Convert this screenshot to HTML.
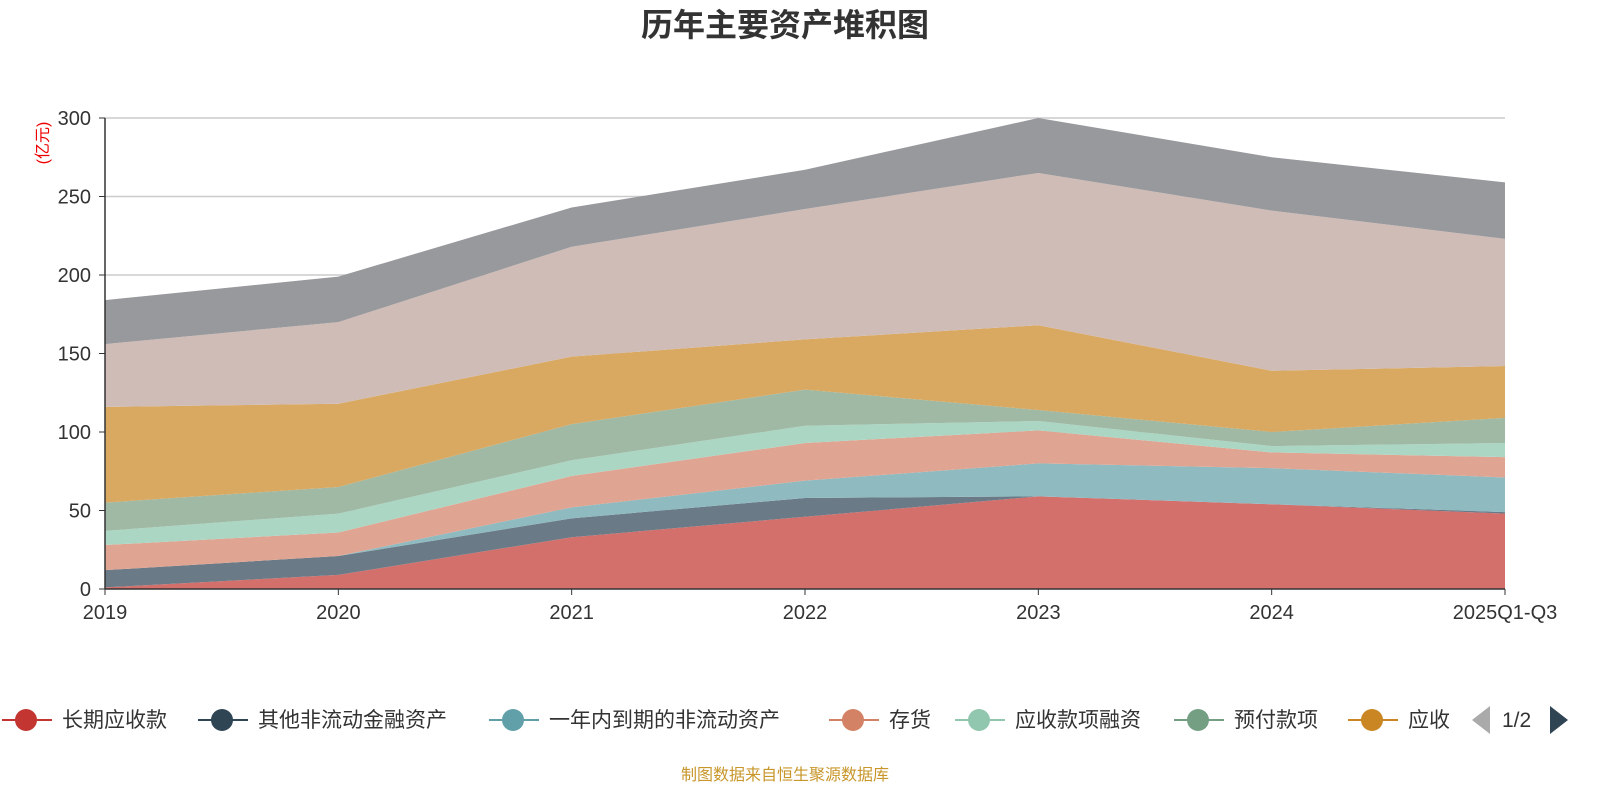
<!DOCTYPE html>
<html><head><meta charset="utf-8"><style>
body{margin:0;background:#fff;}
svg{display:block;font-family:"Liberation Sans","Noto Sans CJK SC",sans-serif;}
</style></head><body>
<svg id="c" width="1600" height="800">
<text x="785" y="36" text-anchor="middle" font-size="32" font-weight="bold" fill="#333">历年主要资产堆积图</text>
<text transform="translate(48,143) rotate(-90)" text-anchor="middle" font-size="16" fill="#e00">(亿元)</text>
<g id="grid"></g><g id="areas"></g><g id="axes"></g><g id="legend"></g>
<text x="785" y="780" text-anchor="middle" font-size="16" fill="#c8962a">制图数据来自恒生聚源数据库</text>
</svg>
<script>
const categories=["2019","2020","2021","2022","2023","2024","2025Q1-Q3"];
const seriesNames=["长期应收款","其他非流动金融资产","一年内到期的非流动资产","存货","应收款项融资","预付款项","应收","货币资金","其他"];
const s1=[1,9,33,46,59,54,48];
const s2=[11,12,12,12,0,0,1];
const s3=[0,0,7,11,21,23,22];
const s4=[16,15,20,24,21,10,13];
const s5=[9,12,10,11,6,4,9];
const s6=[18,17,23,23,7,9,16];
const s7=[61,53,43,32,54,39,33];
const s8=[40,52,70,83,97,102,81];
const s9=[28,29,25,25,35,34,36];
const yTicks=[0,50,100,150,200,250,300];
const series=[s1,s2,s3,s4,s5,s6,s7,s8,s9];
const colors=["#d4706c","#6a7a87","#8fbac0","#e0a592","#acd6c4","#9fb9a4","#d9a962","#d0bcb6","#98999d"];
const legendColors=["#c23531","#2f4554","#61a0a8","#d48265","#91c7ae","#749f83","#ca8622"];
const NS="http://www.w3.org/2000/svg";
const X0=105,X1=1505,Y0=589,Y1=118,YMAX=300;
const xs=i=>X0+(X1-X0)*i/(categories.length-1);
const ys=v=>Y0-(Y0-Y1)*v/YMAX;
function mk(t,a,p){const e=document.createElementNS(NS,t);for(const k in a)e.setAttribute(k,a[k]);p.appendChild(e);return e;}
const grid=document.getElementById('grid'),axes=document.getElementById('axes'),areas=document.getElementById('areas'),leg=document.getElementById('legend');
yTicks.forEach(v=>{
 if(v>0){const l=mk('line',{x1:X0,x2:X1,y1:ys(v),y2:ys(v),stroke:'#ccc','stroke-width':1.5},grid);
 
 }
 const t=mk('text',{x:X0-14,y:ys(v)+7,'text-anchor':'end','font-size':20,fill:'#333'},axes);t.textContent=v;
 
 
 mk('line',{x1:X0-6,x2:X0,y1:ys(v),y2:ys(v),stroke:'#333'},axes);
});
let base=categories.map(()=>0);
series.forEach((s,k)=>{
 const top=base.map((b,i)=>b+s[i]);
 let pts=top.map((v,i)=>xs(i)+','+ys(v));
 for(let i=categories.length-1;i>=0;i--)pts.push(xs(i)+','+ys(base[i]));
 const p=mk('polygon',{points:pts.join(' '),fill:colors[k]},areas);
 
 
 base=top;
});
mk('line',{x1:X0,x2:X0,y1:Y1,y2:Y0,stroke:'#333','stroke-width':1.5},axes);
mk('line',{x1:X0,x2:X1,y1:Y0,y2:Y0,stroke:'#333','stroke-width':1.5},axes);
categories.forEach((c,i)=>{
 mk('line',{x1:xs(i),x2:xs(i),y1:Y0,y2:Y0+6,stroke:'#333'},axes);
 const t=mk('text',{x:xs(i),y:Y0+30,'text-anchor':'middle','font-size':20,fill:'#333'},axes);t.textContent=c;
 
 
});
const lx=[2,198,489,829,955,1174,1348];
legendColors.forEach((c,k)=>{
 const g=mk('g',{},leg);
 
 
 mk('line',{x1:lx[k],x2:lx[k]+50,y1:720,y2:720,stroke:c,'stroke-width':2},g);
 mk('circle',{cx:lx[k]+24,cy:720,r:11,fill:c},g);
 const t=mk('text',{x:lx[k]+60,y:727,'font-size':21,fill:'#333'},g);t.textContent=seriesNames[k];
});
const pl=mk('polygon',{points:'1490,706 1490,734 1472,720',fill:'#aaa'},leg);


const pt=mk('text',{x:1502,y:727,'font-size':21,fill:'#333'},leg);pt.textContent='1/2';


const pr=mk('polygon',{points:'1550,706 1550,734 1568,720',fill:'#2f4554'},leg);


</script>
</body></html>
